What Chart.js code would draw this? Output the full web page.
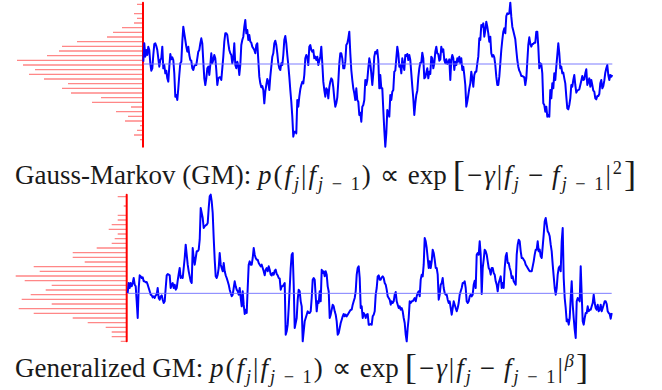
<!DOCTYPE html>
<html>
<head>
<meta charset="utf-8">
<script src="https://cdn.jsdelivr.net/npm/chart.js@4"></script>
<style>
  body { margin: 0; background: #fff; width: 662px; height: 390px; position: relative; overflow: hidden;
         font-family: "Liberation Serif", "Times New Roman", serif; }
  .panel { position: absolute; left: 0; width: 662px; }
  .cap { position: absolute; left: 15px; font-size: 27px; line-height: 27px; white-space: nowrap; color: #1a1a1a; }
  .cap sub, .cap sup { font-size: 68%; line-height: 0; }
  .cap .m { letter-spacing: 2px; }
  .cap .op { margin: 0 7px; }
  .cap .fn { letter-spacing: 0; margin-right: 6px; }
  .cap .br { font-size: 135%; position: relative; top: 2px; font-weight: 300; }
</style>
</head>
<body>
<div class="panel" style="top:0;height:150px"><canvas id="gm"></canvas></div>
<div class="cap" style="top:159px">Gauss-Markov (GM): <span class="m"><i>p</i>(<i>f<sub>j</sub></i>|<i>f</i><sub><i>j</i> − 1</sub>)<span class="op">∝</span><span class="fn">exp</span><span class="br">[</span>−<i>γ</i>|<i>f<sub>j</sub></i><span class="op">−</span><i>f</i><sub><i>j</i> − 1</sub>|<sup>2</sup><span class="br">]</span></span></div>
<div class="panel" style="top:188px;height:158px"><canvas id="ggm"></canvas></div>
<div class="cap" style="top:352px">Generalized GM: <span class="m"><i>p</i>(<i>f<sub>j</sub></i>|<i>f</i><sub><i>j</i> − 1</sub>)<span class="op">∝</span><span class="fn">exp</span><span class="br">[</span>−<i>γ</i>|<i>f<sub>j</sub></i><span class="op">−</span><i>f</i><sub><i>j</i> − 1</sub>|<sup><i>β</i></sup><span class="br">]</span></span></div>
<script>
// ---------------- datos (unidades arbitrarias) ----------------
// Gauss-Markov
var gmValues = [
  7,62,22,42,27,52,42,2,-20,-13, 27,60,62,54,42,17,-8,12,17,52,
  -13,-3,-28,-20,-43,-53,-8,30,14,20, 12,-28,-98,-93,-108,-73,-33,2,7,67,
  112,92,72,52,37,52,27,12,10,-13, -18,-6,-3,-3,17,37,42,62,77,62,
  7,-43,-63,-43,-13,-8,-33,-3,32,2, 12,27,17,-18,-63,-43,-40,-40,-48,-13,
  22,67,92,92,87,62,42,32,27,2, 17,62,-3,-13,7,-3,-33,-3,57,72,
  82,112,132,92,102,72,87,67,64,52, 47,42,32,57,62,12,-38,-58,-70,-66,
  -78,-118,-83,-63,-45,-53,-78,-38,-8,22, 32,62,70,57,32,2,-13,-18,2,-3,
  27,72,84,62,27,-3,-38,-78,-113,-158, -218,-203,
  -203,-208,-108,-128,-98,-76,-63,-53,-58,-33, 17,27,20,-3,52,57,42,37,42,17,
  22,12,22,-3,10,22,52,2,-53,-78, -98,-73,-78,-103,-70,-53,-43,-48,-70,-103,
  -128,-118,-100,-53,2,32,32,17,-13,-13, 7,57,62,77,97,32,-18,-48,-73,-88,
  -108,-73,-108,-113,-153,-146,-173,-128,-123,-108, -48,-63,-48,-13,17,2,-28,-63,-28,22,
  37,32,42,12,-73,-33,-73,-73,-138,-198, -248,-208,-138,-148,-158,-93,-108,-83,-78,-23,
  -20,17,52,32,-8,-3,-28,17,-3,-18, 27,24,30,12,27,12,-28,-68,-103,-153,
  -118,-93,-80,-40,-13,4,4,34,17,-43, -40,-26,-13,-43,-23,-30,22,17,-13,2,
  37,52,32,30,10,14,52,37,44,12, 2,14,0,5,14,
  -48,12,27,17,-18,7,-3,17,7,22, 2,17,-18,-8,-33,-63,-128,-113,-93,-73,
  -58,-23,-43,-68,-33,-23,-23,2,22,77, 72,117,112,122,82,102,127,112,92,67,
  82,32,22,27,20,-3,-38,-63,-63,-38, 2,42,72,97,107,92,144,152,150,152,
  184,142,112,100,87,74,42,12,-8,-20, -26,-36,-36,-38,-40,-63,-43,7,57,80,
  60,52,60,60,64,64,97,97,52,-13, 2,0,-28,-118,-123,-143,-128,-158,-153,-158,
  -78,-103,-58,-73,-28,-48,-8,27,62,32, -13,-8,-28,-26,-43,-58,-98,-133,-136,-123,
  -103,-63,-68,-48,-33,-63,-86,-80,-78,-76, -63,-50,-36,-48,-46,-28,-16,-63,-53,-43,
  -68,-48,-63,-80,-83,-103,-106,-96,-96,-90, -58,-48,-73,-66,-50,-26,-13,-3,-33,-48,
  -33,-38,-33
];
var gmMean = 0;
var gmBins = [179,165,151,137,123,109,95,81,67,53,39,25,11,-3,-17,-31,-45,-59,-73,-87,
              -101,-115,-129,-143,-157,-171,-185,-199,-213,-227];
var gmCounts = [2,0,3,2,3,7,10,12,22,27,28,32,42,40,36,38,33,25,27,24,14,17,4,9,5,6,1,2,3,1];

// Gauss-Markov generalizado
var ggmValues = [
  1,31,16,31,21,31,46,26,21,-24, -74,16,54,51,46,48,36,36,33,34,
  26,16,6,-4,-6,-12,-9,-14,-6,-4, 16,-14,-19,-9,-6,-19,-29,-24,16,54,
  58,56,54,16,26,31,16,26,11,16, 38,58,76,46,51,46,76,106,146,116,
  86,66,51,36,31,136,106,86,106,126, 126,131,161,256,241,226,196,201,204,206,
  211,256,291,296,276,241,166,101,51,46, 56,76,121,86,76,66,91,66,54,46,
  36,26,11,1,-9,-4,16,36,21,11, 6,-4,16,-14,-39,6,-34,-62,-49,-59,
  16,86,96,86,86,106,136,116,106,101, 101,91,86,81,86,76,66,54,71,76,
  66,81,71,56,54,61,56,68,71,58, 54,46,44,11,21,21,26,31,
  -124,-114,-94,-44,16,76,116,121,26,-104, -89,-74,-19,11,6,-24,-39,-144,-114,-84,
  -74,-64,-54,-59,-59,-54,-14,41,46,41, -9,-54,-24,-29,6,-24,71,61,66,51,
  66,56,21,6,-74,-64,-49,-34,-39,-54, -64,-84,-124,-119,-104,-89,-79,-69,-62,-69,
  -64,-69,-64,-59,-54,-49,-49,-34,-24,-14, 6,56,76,81,46,-44,-39,-74,-59,-64,
  -74,-64,-62,-94,-94,-92,-94,-69,-64,-54, -4,16,51,54,41,41,48,51,46,31,
  26,11,-9,-14,-19,-34,-24,-29,-24,-4, 4,-24,-34,-44,-39,-49,-44,-54,-74,-89,
  -124,-144,-104,-74,-24,-29,-24,-24,-19,-14, -24,-9,1,6,-9,41,56,51,86,166,
  156,136,106,76,96,76,96,131,121,101, 76,76,56,-19,-4,26,31,46,16,
  1,-4,-4,-19,-29,-24,-44,-64,-44,-24, -34,-44,-54,-44,-29,-4,6,16,31,31,
  36,16,-24,-29,-24,-9,-4,-9,-4,26, 38,16,116,121,116,156,116,-2,76,101,
  131,126,116,96,76,71,56,76,76,61, 56,36,26,6,31,41,51,16,31,16,
  76,111,121,91,91,76,66,46,51,36, 31,26,116,146,161,156,126,106,106,101,
  96,86,81,76,71,66,66,66,81,96, 116,131,131,156,126,131,111,106,141,176,
  216,226,206,186,181,171,146,126,86,51, 16,-4,16,56,76,81,66,156,196,46,
  -14,-44,-84,-79,-94,-74,-14,36,-34,-74, -109,-134,-24,-14,-19,-24,81,-4,-84,-94,
  -74,-59,-59,-39,-54,-49,-49,-39,-29,-4, -29,-44,-49,-34,-54,-49,-34,-54,-44,-34,
  -24,-24,-32,-54,-59,-62,-76,-59
];
var ggmMean = 0;
var ggmBins = [290,276,262,248,234,220,206,192,178,164,150,136,122,108,94,80,66,52,38,24,
               10,-4,-18,-32,-46,-60,-74,-88,-102,-116,-130,-144];
var ggmCounts = [3,0,1,0,3,3,5,6,3,4,5,10,18,18,14,31,29,37,34,25,27,32,35,25,36,31,18,13,7,5,5,2];

// ---------------- dibujo ----------------
var W = 662;

function dibujar(id, values, mean, bins, counts, axisPx, firstPx, lastPx, yMin, yMax) {
  var n = values.length;
  var pxPerSample = (lastPx - firstPx) / (n - 1);
  var pxPerCount = 3;
  var xMin = -firstPx / pxPerSample;

  var serie = values.map(function (v, i) { return { x: i, y: v }; });
  var hist = [];
  for (var i = 0; i < bins.length; i++) {
    hist.push({ x: 0, y: bins[i] }, { x: counts[i], y: bins[i] }, { x: NaN, y: NaN });
  }
  var eje = [{ x: 0, y: Math.max.apply(null, values) }, { x: 0, y: Math.min.apply(null, values) }];
  var media = [{ x: 0, y: mean }, { x: n - 1, y: mean }];

  new Chart(document.getElementById(id), {
    type: 'line',
    data: {
      datasets: [
        { data: media, xAxisID: 'x', borderColor: 'rgba(110,110,255,0.9)', borderWidth: 1 },
        { data: serie, xAxisID: 'x', borderColor: '#0000ff', borderWidth: 2 },
        { data: eje, xAxisID: 'xh', borderColor: '#ff0000', borderWidth: 2 },
        { data: hist, xAxisID: 'xh', borderColor: 'rgba(255,70,70,0.65)', borderWidth: 1.3, spanGaps: false }
      ]
    },
    options: {
      responsive: true,
      maintainAspectRatio: false,
      animation: false,
      events: [],
      layout: { padding: 0 },
      elements: { point: { radius: 0 }, line: { tension: 0, borderJoinStyle: 'round' } },
      datasets: { line: { clip: false, fill: false } },
      plugins: { legend: { display: false }, tooltip: { enabled: false } },
      scales: {
        x: { type: 'linear', display: false, min: xMin, max: xMin + W / pxPerSample },
        xh: { type: 'linear', display: false, reverse: true,
              min: -(W - axisPx) / pxPerCount, max: axisPx / pxPerCount },
        y: { type: 'linear', display: false, min: yMin, max: yMax }
      }
    }
  });
}

dibujar('gm', gmValues, gmMean, gmBins, gmCounts, 143, 143.3, 612.3, -258, 192);
dibujar('ggm', ggmValues, ggmMean, ggmBins, ggmCounts, 126.7, 127.7, 611.7, -158, 316);
</script>
</body>
</html>
